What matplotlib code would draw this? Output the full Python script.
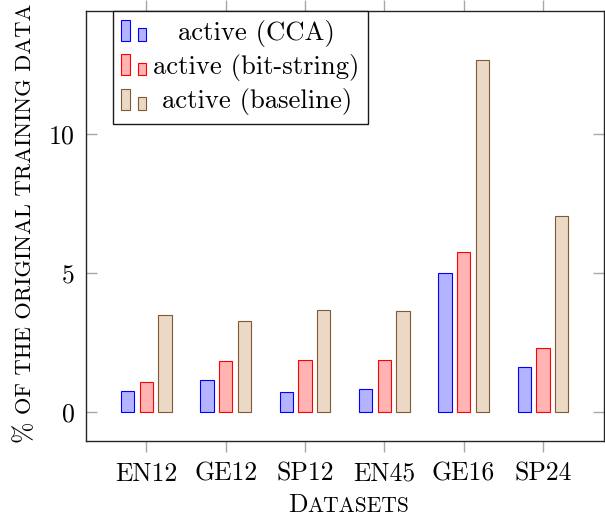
import numpy as np
import matplotlib
matplotlib.use('Agg')
import matplotlib.pyplot as plt
from matplotlib.legend_handler import HandlerBase
from matplotlib.patches import Rectangle

datasets = ['EN12', 'GE12', 'SP12', 'EN45', 'GE16', 'SP24']
cca = [0.74, 1.14, 0.73, 0.81, 4.99, 1.60]
bitstring = [1.09, 1.82, 1.86, 1.87, 5.75, 2.28]
baseline = [3.49, 3.26, 3.66, 3.61, 12.64, 7.06]
labels = ['active (CCA)', 'active (bit-string)', 'active (baseline)']

fills = ['#b3b3ff', '#ffb3b3', '#ebd9c6']
edges = ['#0000ff', '#ff0000', '#7f5a36']

plt.rcParams['font.family'] = 'serif'
plt.rcParams['font.serif'] = ['cmr10']
plt.rcParams['mathtext.fontset'] = 'cm'
plt.rcParams['axes.formatter.use_mathtext'] = True

BIG = 18.5
SMALL = 15.5


class TwoBars(HandlerBase):
    # pgfplots style ybar legend: a tall and a short bar
    def create_artists(self, legend, orig, xd, yd, w, h, fs, trans):
        fc = orig.get_facecolor()
        ec = orig.get_edgecolor()
        bw = w * 0.33
        r1 = Rectangle((-xd, -yd), bw, h, facecolor=fc, edgecolor=ec,
                       linewidth=0.8, transform=trans)
        r2 = Rectangle((-xd + w * 0.64, -yd), bw, h * 0.6, facecolor=fc,
                       edgecolor=ec, linewidth=0.8, transform=trans)
        return [r1, r2]


fig = plt.figure(figsize=(6.05, 5.2), dpi=100)
ax = fig.add_axes([86 / 605, 79 / 520, 518 / 605, 430 / 520])

x = np.arange(len(datasets))
w = 0.168
off = 0.235
handles = []
for i, vals in enumerate([cca, bitstring, baseline]):
    bars = ax.bar(x + (i - 1) * off, vals, w, color=fills[i],
                  edgecolor=edges[i], linewidth=0.8, label=labels[i])
    handles.append(bars.patches[0])

ax.set_xlim(-0.76, 5.77)
ax.set_ylim(-1.05, 14.42)
ax.set_xticks(x)
ax.set_xticklabels(datasets)
ax.set_yticks([0, 5, 10])

ax.tick_params(axis='y', direction='in', left=True, right=True, length=8,
               width=1, color='#a8a8a8', pad=8, labelsize=BIG)
ax.tick_params(axis='x', direction='out', top=True, bottom=True, length=8,
               width=1, color='#a8a8a8', pad=7, labelsize=BIG)
for s in ax.spines.values():
    s.set_color('#262626')
    s.set_linewidth(1.0)

leg = ax.legend(handles, labels, handler_map={Rectangle: TwoBars()},
                loc='upper left', bbox_to_anchor=(0.052, 1.0),
                borderaxespad=0, fontsize=19.2, handlelength=0.95,
                handleheight=0.85, handletextpad=0.25, labelspacing=0.28,
                borderpad=0.32, fancybox=False, framealpha=1,
                edgecolor='#1a1a1a')
leg.get_frame().set_linewidth(1.0)

# small caps style axis labels
xl1 = fig.text(288, 8, 'D', transform=None, fontsize=BIG,
               ha='left', va='baseline')
ax.annotate('ATASETS', xy=(1, 8), xycoords=(xl1, 'figure pixels'),
            fontsize=SMALL, ha='left', va='baseline', annotation_clip=False)

yl1 = fig.text(31, 78, '%', transform=None, fontsize=BIG, rotation=90,
               rotation_mode='anchor', ha='left', va='baseline')
ax.annotate('OF THE ORIGINAL TRAINING DATA', xy=(31, 1),
            xycoords=('figure pixels', yl1), xytext=(0, 5),
            textcoords='offset points', fontsize=16.2, rotation=90,
            rotation_mode='anchor', ha='left', va='baseline',
            annotation_clip=False)

# center the legend texts in their column like pgfplots does
fig.canvas.draw()
texts = leg.get_texts()
widths = [t.get_window_extent().width for t in texts]
maxw = max(widths)
for t, tw in zip(texts, widths):
    t.set_x((maxw - tw) / 2)

fig.savefig('out.png', dpi=100)
